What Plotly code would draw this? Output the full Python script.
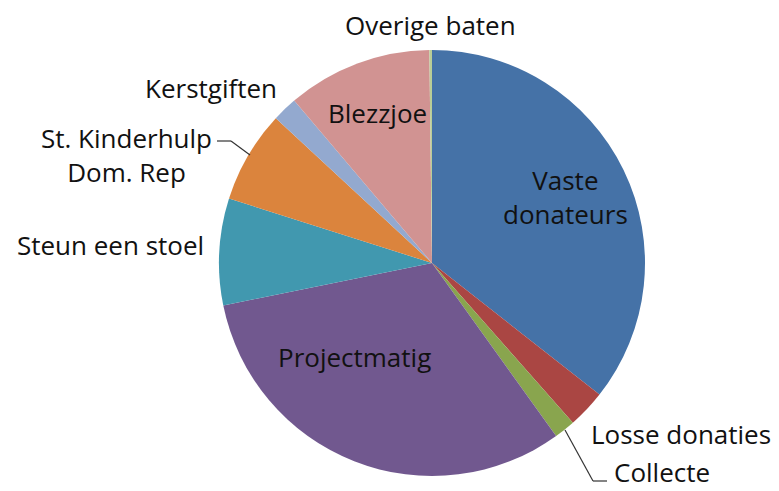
import plotly.graph_objects as go

labels = ["Vaste donateurs", "Losse donaties", "Collecte", "Projectmatig",
          "Steun een stoel", "St. Kinderhulp Dom. Rep", "Kerstgiften", "Blezzjoe", "Overige baten"]
values = [35.6, 2.9, 1.6, 31.7, 8.1, 7.0, 1.9, 11.0, 0.2]
colors = ["#4572A7", "#AA4643", "#89A54E", "#71588F", "#4198AF",
          "#DB843D", "#93A9CF", "#D19392", "#B9CD96"]

OFF = 8  # page body margin
W, H = 779 - OFF, 491 - OFF
cx, cy, r = 432 - OFF, 263 - OFF, 213

fig = go.Figure(go.Pie(
    labels=labels, values=values, sort=False, direction="clockwise", rotation=0,
    marker=dict(colors=colors, line=dict(width=0)),
    textinfo="none", hoverinfo="label+percent", showlegend=False,
    domain=dict(x=[(cx - r) / W, (cx + r) / W], y=[(H - cy - r) / H, (H - cy + r) / H]),
))

font = dict(family="Open Sans, sans-serif", size=26, color="#111111")

label_pos = [
    ("Vaste<br>donateurs", 565, 197),
    ("Losse donaties", 681, 434),
    ("Collecte", 662, 472),
    ("Projectmatig", 354, 357),
    ("Steun een stoel", 110, 245),
    ("St. Kinderhulp<br>Dom. Rep", 126, 155),
    ("Kerstgiften", 211, 88),
    ("Blezzjoe", 377, 113),
    ("Overige baten", 430, 25),
]
for txt, x, y in label_pos:
    fig.add_annotation(text=txt, x=(x - OFF) / W, y=1 - (y - OFF) / H, xref="paper", yref="paper",
                       showarrow=False, font=font, xanchor="center", yanchor="middle",
                       borderpad=0)

def seg(pts):
    for (x0, y0), (x1, y1) in zip(pts[:-1], pts[1:]):
        fig.add_shape(type="line", xref="paper", yref="paper",
                      x0=(x0 - OFF) / W, y0=1 - (y0 - OFF) / H,
                      x1=(x1 - OFF) / W, y1=1 - (y1 - OFF) / H,
                      line=dict(color="#333333", width=1.2))

seg([(217, 141), (231, 141), (250, 155)])
seg([(565, 430), (593, 481), (607, 481)])

fig.update_layout(width=W, height=H, margin=dict(l=0, r=0, t=0, b=0),
                  paper_bgcolor="white", plot_bgcolor="white")
fig.write_html("out.html")
